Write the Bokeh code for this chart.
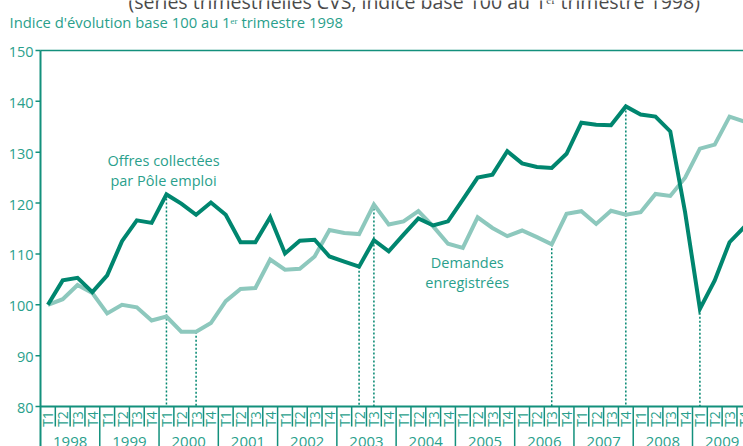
import math
from bokeh.plotting import figure
from bokeh.models import Range1d
from bokeh.core.properties import value
from bokeh.embed import file_html
from bokeh.resources import INLINE

# ---- data ----
years = ["1998", "1999", "2000", "2001", "2002", "2003", "2004",
         "2005", "2006", "2007", "2008", "2009"]
quarters = ["T1", "T2", "T3", "T4"]
offres = [100.0, 104.8, 105.3, 102.5,
          105.8, 112.5, 116.6, 116.1,
          121.7, 119.9, 117.7, 120.1,
          117.7, 112.3, 112.3, 117.2,
          110.1, 112.6, 112.8, 109.5,
          108.5, 107.5, 112.7, 110.5,
          113.8, 117.0, 115.6, 116.4,
          120.7, 125.0, 125.6, 130.2,
          127.8, 127.1, 126.9, 129.7,
          135.8, 135.4, 135.3, 139.0,
          137.4, 137.0, 134.1, 118.2,
          99.2, 104.8, 112.3, 115.3]
demandes = [100.0, 101.1, 103.9, 102.3,
            98.3, 100.0, 99.5, 96.9,
            97.7, 94.7, 94.7, 96.4,
            100.7, 103.1, 103.3, 108.9,
            106.9, 107.1, 109.5, 114.7,
            114.1, 113.9, 119.7, 115.8,
            116.4, 118.4, 115.4, 112.0,
            111.2, 117.2, 115.1, 113.5,
            114.6, 113.3, 111.9, 117.9,
            118.4, 115.9, 118.5, 117.7,
            118.2, 121.8, 121.4, 125.0,
            130.7, 131.5, 137.0, 136.0]
offres_marks = [8, 21, 39, 44]     # 2000T1, 2003T2, 2007T4, 2009T1
demandes_marks = [10, 22, 34]      # 2000T3, 2003T3, 2006T3
y_ticks = [80, 90, 100, 110, 120, 130, 140, 150]
y_tick_labels = [str(t) for t in y_ticks]
title_text = "(séries trimestrielles CVS, indice base 100 au 1ᵉʳ trimestre 1998)"
subtitle_text = "Indice d'évolution base 100 au 1ᵉʳ trimestre 1998"

# ---- styles ----
DARK = "#00866f"
LIGHT = "#8dc8bd"
AXIS = "#13907c"
TEXT = "#2a9f8c"
FONT = "Open Sans"

W, H = 743, 446
PX = 356 / 70.0            # px per index point
QPX = 652 / 44.0           # px per quarter
LEFT, TOP150 = 40, 50      # page position of axis corner / value 150


def dx(px):
    return px / QPX


def dy(px):
    return px / PX


X0 = -dx(LEFT)
X1 = dx(W - LEFT)
Y1 = 150 + dy(TOP150)
Y0 = 150 - dy(H - TOP150)


def page_x(px):
    return X0 + dx(px)


def page_y(py):
    return Y1 - dy(py)


p = figure(width=W, height=H, output_backend="svg", toolbar_location=None,
           x_range=Range1d(X0, X1), y_range=Range1d(Y0, Y1),
           x_axis_location=None, y_axis_location=None,
           min_border=0, min_border_left=0, min_border_right=0,
           min_border_top=0, min_border_bottom=0)
p.outline_line_color = None
p.grid.visible = False
p.background_fill_color = "white"
p.border_fill_color = "white"

n = len(offres)
xc = [i + 0.5 for i in range(n)]
nq = int(math.ceil(X1))

# ---- value axis (left) ----
p.segment(x0=[0], y0=[150], x1=[0], y1=[Y0], line_color=AXIS, line_width=2)
p.segment(x0=[-dx(5)] * len(y_ticks), y0=y_ticks, x1=[0] * len(y_ticks), y1=y_ticks,
          line_color=AXIS, line_width=1.5)
p.text(x=[-dx(7)] * len(y_ticks), y=[t - dy(1.5) for t in y_ticks], text=y_tick_labels,
       text_align="right", text_baseline="middle", text_color=TEXT,
       text_font=value(FONT), text_font_size="14.5px")
# top line at 150 and baseline at 80
p.segment(x0=[0, 0], y0=[150, 80], x1=[X1, X1], y1=[150, 80],
          line_color=AXIS, line_width=[1.5, 2])

# ---- dotted reference lines ----
mx = [i + 0.5 for i in offres_marks] + [i + 0.5 for i in demandes_marks]
my = [offres[i] for i in offres_marks] + [demandes[i] for i in demandes_marks]
p.segment(x0=mx, y0=my, x1=mx, y1=[80] * len(mx), line_color=DARK,
          line_width=1.5, line_dash="2 2")

# ---- series ----
p.line(xc, demandes, line_color=LIGHT, line_width=4, line_join="miter")
p.line(xc, offres, line_color=DARK, line_width=4, line_join="miter")

# ---- time axis (bottom) ----
qsep = [i for i in range(1, nq + 1) if i % 4 != 0]
p.segment(x0=qsep, y0=[80] * len(qsep), x1=qsep, y1=[80 - dy(20)] * len(qsep),
          line_color=AXIS, line_width=1.5)
ysep = [4 * k for k in range(1, len(years))]
p.segment(x0=ysep, y0=[80] * len(ysep), x1=ysep, y1=[Y0] * len(ysep),
          line_color=AXIS, line_width=1.5)
qlab_x = [i + 0.5 for i in range(nq)]
qlab = [quarters[i % 4] for i in range(nq)]
p.text(x=qlab_x, y=[80 - dy(12.5)] * nq, text=qlab, angle=math.pi / 2,
       text_align="center", text_baseline="middle", text_color=TEXT,
       text_font=value(FONT), text_font_size="14px")
p.text(x=[4 * k + 2 for k in range(len(years))], y=[page_y(441.5)] * len(years), text=years,
       text_align="center", text_baseline="middle", text_color=TEXT,
       text_font=value(FONT), text_font_size="15px")

# ---- series annotations ----
p.text(x=[8.3, 8.3], y=[128.37, 124.44], text=["Offres collectées", "par Pôle emploi"],
       text_align="center", text_baseline="middle", text_color=TEXT,
       text_font=value(FONT), text_font_size="14.5px")
p.text(x=[28.8, 28.8], y=[108.38, 104.44], text=["Demandes", "enregistrées"],
       text_align="center", text_baseline="middle", text_color=TEXT,
       text_font=value(FONT), text_font_size="14.5px")

# ---- titles ----
p.text(x=[page_x(9)], y=[page_y(21.7)], text=[subtitle_text],
       text_align="left", text_baseline="middle", text_color=TEXT,
       text_font=value(FONT), text_font_size="14.8px")
p.text(x=[page_x(128)], y=[page_y(0.5)], text=[title_text],
       text_align="left", text_baseline="middle", text_color="#4a4a4a",
       text_font=value(FONT), text_font_size="19.5px")

open("out.html", "w").write(file_html(p, INLINE))
